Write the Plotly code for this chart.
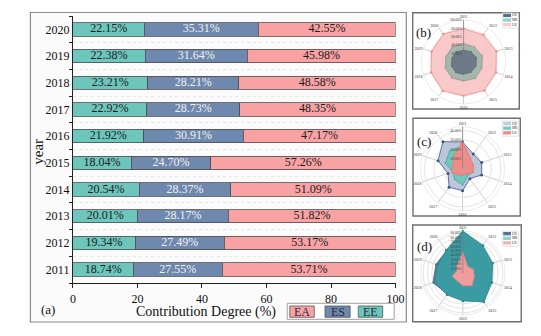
import plotly.graph_objects as go

# ---- panel (a): contribution shares by year ----
years = ["2011", "2012", "2013", "2014", "2015", "2016", "2017", "2018", "2019", "2020"]
ee = [18.74, 19.34, 20.01, 20.54, 18.04, 21.92, 22.92, 23.21, 22.38, 22.15]
es = [27.55, 27.49, 28.17, 28.37, 24.70, 30.91, 28.73, 28.21, 31.64, 35.31]
ea = [53.71, 53.17, 51.82, 51.09, 57.26, 47.17, 48.35, 48.58, 45.98, 42.55]
x_ticks = [0, 20, 40, 60, 80, 100]

# ---- panels (b)-(d): regional radar values ----
b_lr = [0.79, 0.80, 0.82, 0.81, 0.84, 0.80, 0.85, 0.81, 0.80, 0.82]
b_mr = [0.44, 0.44, 0.47, 0.46, 0.48, 0.45, 0.47, 0.46, 0.44, 0.45]
b_ur = [0.28, 0.30, 0.32, 0.31, 0.30, 0.29, 0.31, 0.30, 0.29, 0.30]
b_ticks = [0.2, 0.4, 0.6, 0.8, 1.0]

c_ur = [0.28, 0.19, 0.21, 0.21, 0.13, 0.23, 0.24, 0.16, 0.27, 0.35]
c_mr = [0.24, 0.13, 0.11, 0.11, 0.09, 0.17, 0.14, 0.11, 0.19, 0.23]
c_lr = [0.29, 0.14, 0.12, 0.12, 0.07, 0.07, 0.08, 0.12, 0.11, 0.16]
c_ticks = [0.1, 0.2, 0.3, 0.4]

d_ur = [0.93, 0.75, 0.69, 0.67, 0.79, 0.61, 0.59, 0.71, 0.64, 0.62]
d_mr = [0.95, 0.77, 0.71, 0.69, 0.81, 0.63, 0.61, 0.67, 0.60, 0.64]
d_lr = [0.47, 0.18, 0.25, 0.27, 0.35, 0.29, 0.22, 0.25, 0.15, 0.22]
d_ticks = [0.1, 0.2, 0.3, 0.4, 0.5, 0.6, 0.7, 0.8, 0.9]

SERIF = "Liberation Serif"
EE_C, ES_C, EA_C = "#6cc6bb", "#6f88ad", "#f8a2a4"
W, H = 541, 336


def px(x):
    return x / W


def py(y):
    return 1 - y / H


def closed(v):
    return list(v) + [v[0]]


fig = go.Figure()

# stacked horizontal bars, each segment labelled at its centre
left = [0.0] * len(years)
for vals, name, col, tcol in [(ee, "EE", EE_C, "#1c1c1c"),
                              (es, "ES", ES_C, "#f2f2f2"),
                              (ea, "EA", EA_C, "#1c1c1c")]:
    fig.add_trace(go.Bar(
        y=years, x=vals, orientation="h", name=name,
        marker=dict(color=col, line=dict(color="#4d4d4d", width=0.8)),
        textposition="none", showlegend=False, xaxis="x", yaxis="y"))
    mids = [l + v / 2 for l, v in zip(left, vals)]
    fig.add_trace(go.Scatter(
        y=years, x=mids, mode="text", text=[f"{v:.2f}%" for v in vals],
        textfont=dict(family=SERIF, size=12, color=tcol),
        showlegend=False, hoverinfo="skip", xaxis="x", yaxis="y"))
    left = [l + v for l, v in zip(left, vals)]


def radar(sub, series):
    for vals, fill, line, msize in series:
        fig.add_trace(go.Scatterpolar(
            r=closed(vals), theta=closed(years), subplot=sub,
            mode="lines+markers", fill="toself", fillcolor=fill,
            line=dict(color=line, width=0.8),
            marker=dict(color=line, size=msize),
            showlegend=False))


radar("polar", [(b_lr, "#f9c8c8", "#ef8f8f", 2.5),
                (b_mr, "#a6b6ab", "#8d9c93", 1.5),
                (b_ur, "#6b7b8a", "#5d6b78", 1.5)])
radar("polar2", [(c_ur, "#bcc6da", "#3f5683", 3),
                 (c_mr, "#6fc7bc", "#4aa69c", 1.5),
                 (c_lr, "#ee8c89", "#e07c79", 1.5)])
radar("polar3", [(d_ur, "#5f7896", "#4f6684", 1.5),
                 (d_mr, "#3b9ba3", "#2f8890", 2.5),
                 (d_lr, "#ef9c9c", "#e08888", 1.5)])


def polar_cfg(cx, cy, R, rmax, tickvals):
    return dict(
        domain=dict(x=[px(cx - R), px(cx + R)], y=[py(cy + R), py(cy - R)]),
        bgcolor="rgba(0,0,0,0)",
        angularaxis=dict(direction="clockwise", rotation=90, ticks="",
                         tickfont=dict(family=SERIF, size=4, color="#333"),
                         showline=True, linecolor="#dcdcdc", linewidth=0.6,
                         gridcolor="#cfcfcf", gridwidth=0.6),
        radialaxis=dict(range=[0, rmax], tickvals=tickvals, tickformat=".2%",
                        angle=90, tickangle=90, side="counterclockwise",
                        ticks="", tickfont=dict(family=SERIF, size=3.5, color="#444"),
                        showline=True, linecolor="#777", linewidth=0.6,
                        gridcolor="#e4e4e4", gridwidth=0.6))


shapes = []
annotations = []


def label(text, x, y, size, color="#111", angle=0):
    annotations.append(dict(text=text, x=px(x), y=py(y), xref="paper", yref="paper",
                            xanchor="center", yanchor="middle", showarrow=False,
                            textangle=angle,
                            font=dict(family=SERIF, size=size, color=color)))


# outer frame of panel (a)
shapes.append(dict(type="rect", xref="paper", yref="paper", layer="below",
                   x0=px(28), x1=px(412.5), y0=py(322), y1=py(12.5),
                   line=dict(color="#8c8c8c", width=1.2), fillcolor="#fbfbfb"))

# frames of radar panels
for x0, x1, y0, y1 in [(419, 528, 12.7, 109), (419.3, 529, 118.3, 216), (419, 530, 225, 321.7)]:
    shapes.append(dict(type="rect", xref="paper", yref="paper", layer="below",
                       x0=px(x0), x1=px(x1), y0=py(y1), y1=py(y0),
                       line=dict(color="#6e6e6e", width=1.4), fillcolor="white"))

# legend of panel (a)
shapes.append(dict(type="rect", xref="paper", yref="paper",
                   x0=px(290.7), x1=px(400), y0=py(319.3), y1=py(303.3),
                   line=dict(color="#a0a0a0", width=1), fillcolor="white"))
for (x0, x1), lab, col in [((293.3, 318.3), "EA", EA_C),
                           ((329.3, 355), "ES", ES_C),
                           ((363.3, 388.3), "EE", EE_C)]:
    shapes.append(dict(type="rect", xref="paper", yref="paper",
                       x0=px(x0), x1=px(x1), y0=py(317.3), y1=py(306),
                       line=dict(color="#555", width=0.8), fillcolor=col))
    label(lab, (x0 + x1) / 2, 311.8, 12, "#2a2a3a")

# small legends of the radar panels
for top, cols in [(13.7, ["#5b7090", "#90d4cb", "#f8cccc"]),
                  (121.9, ["#c3cce0", "#78ccc2", "#ef8c89"]),
                  (232.0, ["#5b7494", "#8fd3cb", "#f4b2b2"])]:
    shapes.append(dict(type="rect", xref="paper", yref="paper",
                       x0=px(510.5), x1=px(527), y0=py(top + 14.3), y1=py(top - 0.8),
                       line=dict(color="#cfcfcf", width=0.6), fillcolor="white"))
    for i, (lab, col) in enumerate(zip(["UR", "MR", "LR"], cols)):
        yt = top + i * 4.6
        shapes.append(dict(type="rect", xref="paper", yref="paper",
                           x0=px(511.5), x1=px(519.5), y0=py(yt + 3.4), y1=py(yt),
                           line=dict(width=0), fillcolor=col))
        label(lab, 523.5, yt + 1.7, 3.5, "#333")

# panel tags and titles
label("(a)", 46, 309.5, 13)
label("(b)", 430.5, 32.5, 13)
label("(c)", 430.5, 141, 13)
label("(d)", 431, 246.5, 13)
label("Contribution Degree (%)", 208, 311.5, 14)
label("year", 35.5, 152, 15, angle=-90)

fig.update_layout(
    width=W, height=H, margin=dict(l=0, r=0, t=0, b=0),
    paper_bgcolor="white", plot_bgcolor="white",
    barmode="stack", bargap=0.5,
    xaxis=dict(domain=[px(71.5), px(401.5)], range=[0, 100], tickvals=x_ticks,
               ticks="outside", ticklen=4, tickcolor="#222", showline=True,
               linecolor="#222", linewidth=1.2, showgrid=False, zeroline=False,
               tickfont=dict(family=SERIF, size=12, color="#111"), anchor="y"),
    yaxis=dict(domain=[py(283), py(16)], type="category", tickson="boundaries",
               ticks="outside", ticklen=3, tickcolor="#222", showline=True,
               linecolor="#222", linewidth=1.2, showgrid=True, gridcolor="#e6e6e6",
               griddash="dot", gridwidth=0.7,
               tickfont=dict(family=SERIF, size=12, color="#111"), anchor="x"),
    polar=polar_cfg(471, 62, 43, 1.0, b_ticks),
    polar2=polar_cfg(470, 168.7, 43, 0.44, c_ticks),
    polar3=polar_cfg(470.3, 273, 43, 0.95, d_ticks),
    shapes=shapes, annotations=annotations,
)

fig.write_html("out.html")
